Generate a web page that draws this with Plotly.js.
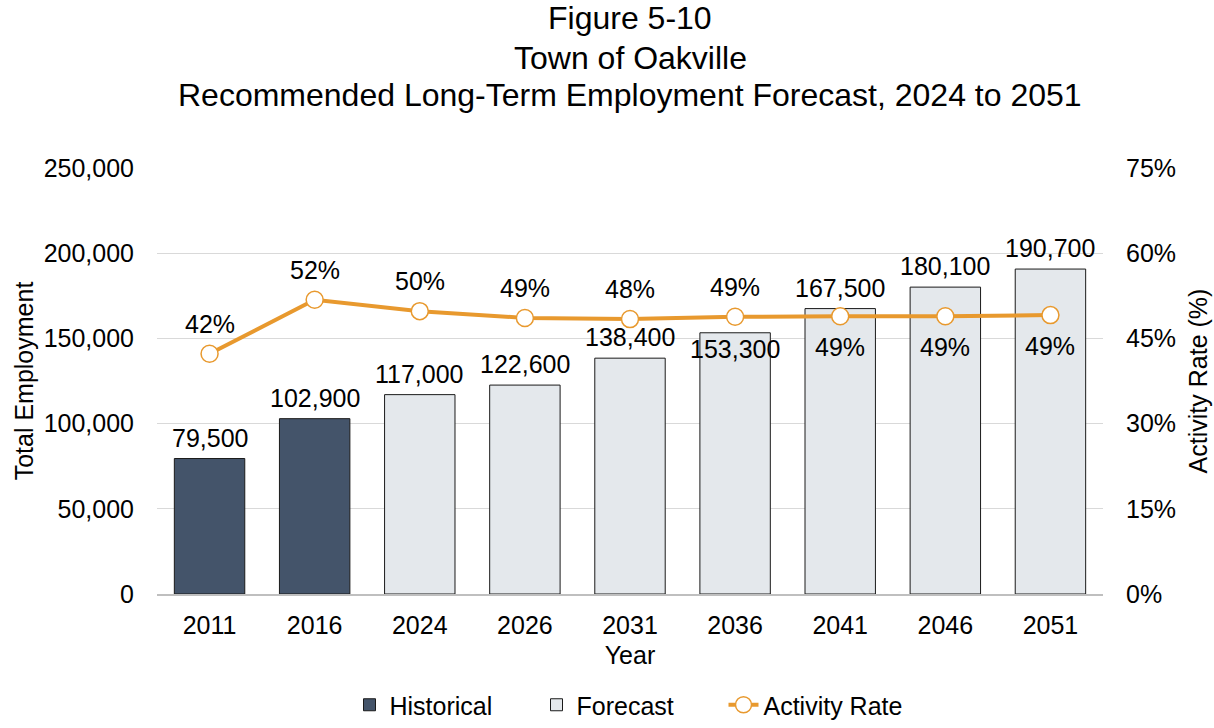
<!DOCTYPE html>
<html><head><meta charset="utf-8">
<script src="https://cdn.plot.ly/plotly-3.0.1.min.js"></script>
<style>body{margin:0;background:#fff}#chart{width:1214px;height:728px}</style>
</head><body><div id="chart"></div>
<script>
const years = ['2011','2016','2024','2026','2031','2036','2041','2046','2051'];
const historicalYears = ['2011','2016'];
const historicalEmp = [79500, 102900];
const forecastYears = ['2024','2026','2031','2036','2041','2046','2051'];
const forecastEmp = [117000, 122600, 138400, 153300, 167500, 180100, 190700];
const activityRate = [42.3, 51.8, 49.8, 48.6, 48.4, 48.8, 48.9, 48.9, 49.1];
const activityLabels = ['42%','52%','50%','49%','48%','49%','49%','49%','49%'];
const titleLines = ['Figure 5-10', 'Town of Oakville', 'Recommended Long-Term Employment Forecast, 2024 to 2051'];

const font = 'Liberation Sans, Arial, sans-serif';
const orange = '#E8992E';
const allEmp = historicalEmp.concat(forecastEmp);
const FS = 25;

const traces = [
  {type:'bar', name:'Historical', x:historicalYears, y:historicalEmp,
   marker:{color:'#44546A', line:{color:'#1a1a1a', width:1}}, width:0.67},
  {type:'bar', name:'Forecast', x:forecastYears, y:forecastEmp,
   marker:{color:'#E4E8EC', line:{color:'#1a1a1a', width:1}}, width:0.67},
  {type:'scatter', mode:'lines+markers', name:'Activity Rate', x:years, y:activityRate, yaxis:'y2',
   line:{color:orange, width:4}, marker:{size:17, color:'#ffffff', line:{color:orange, width:1.5}}}
];

const annotations = [];
years.forEach((yr,i)=>{
  const v = allEmp[i];
  const special = (yr==='2036');
  annotations.push({x:i, y:v, xref:'x', yref:'y', text:v.toLocaleString('en-US'),
    showarrow:false, yanchor: special?'middle':'bottom', yshift: special?-16:5,
    font:{family:font, size:FS, color:'#000'}});
  const below = i>=6;
  annotations.push({x:i, y:activityRate[i], xref:'x', yref:'y2', text:activityLabels[i],
    showarrow:false, yanchor:'middle', yshift: below?-31:30,
    font:{family:font, size:FS, color:'#000'}});
});
const plotTop = 168, plotBottom = 594;
const titleY = [18, 58, 95];
titleLines.forEach((t,i)=>{
  annotations.push({x:0.5, xref:'paper', y:(plotBottom - titleY[i])/(plotBottom - plotTop), yref:'paper', text:t,
    showarrow:false, xanchor:'center', yanchor:'middle',
    font:{family:font, size:32, color:'#000'}});
});

const layout = {
  width:1214, height:728,
  margin:{l:157, r:111, t:168, b:134},
  paper_bgcolor:'#fff', plot_bgcolor:'#fff',
  font:{family:font, color:'#000'},
  barmode:'overlay',
  xaxis:{type:'category', categoryorder:'array', categoryarray:years, range:[-0.5, 8.5],
    tickfont:{family:font, size:FS}, showline:true, linecolor:'#bfbfbf', linewidth:2, ticks:'',
    ticklabelstandoff:8, automargin:false,
    title:{text:'Year', font:{family:font, size:FS}, standoff:8}},
  yaxis:{range:[0,250000], dtick:50000, tickformat:',', gridcolor:'#d9d9d9', gridwidth:1,
    tickfont:{family:font, size:FS}, zeroline:false, ticklabelstandoff:22, automargin:false,
    title:{text:'Total Employment', font:{family:font, size:FS}, standoff:2}},
  yaxis2:{range:[0,75], dtick:15, ticksuffix:'%', overlaying:'y', side:'right', showgrid:false,
    tickfont:{family:font, size:FS}, zeroline:false, ticklabelstandoff:22, automargin:false,
    title:{text:'Activity Rate (%)', font:{family:font, size:FS}, standoff:14}},
  legend:{orientation:'h', x:0.5, xanchor:'center', yref:'container', y:0, yanchor:'bottom',
    font:{family:font, size:FS}, traceorder:'normal', entrywidth:142, entrywidthmode:'pixels'},
  annotations:annotations
};

Plotly.newPlot('chart', traces, layout, {displayModeBar:false});
</script></body></html>
